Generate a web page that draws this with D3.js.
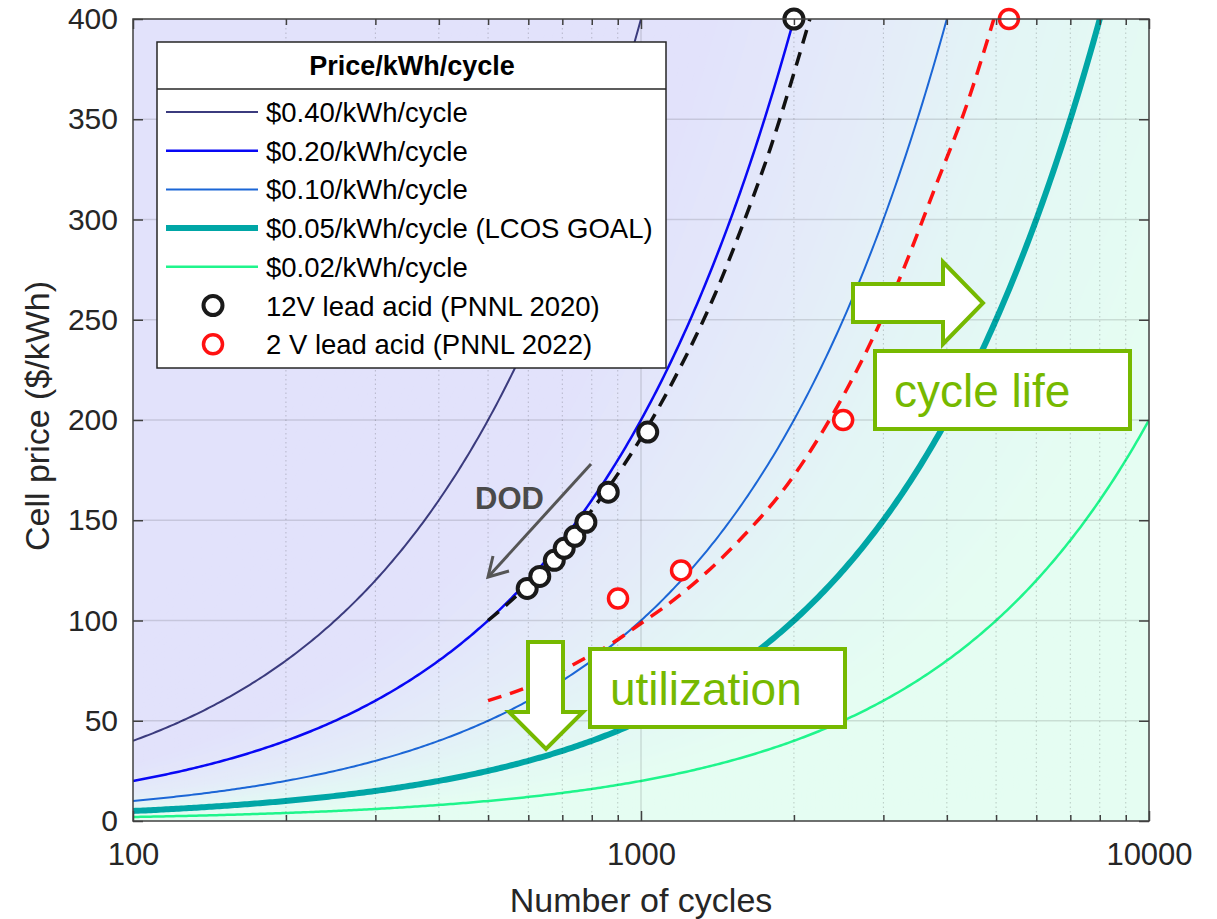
<!DOCTYPE html>
<html>
<head>
<meta charset="utf-8">
<script src="https://cdn.jsdelivr.net/npm/d3@7"></script>
<style>
  body { margin: 0; background: #fff; }
  text { font-family: "Liberation Sans", Arial, sans-serif; }
</style>
</head>
<body>
<svg id="chart"></svg>
<script>
const width = 1217;
const height = 919;

// ---- data ----
// iso-cost lines: cell price = rate * cycles
const rates = [0.40, 0.20, 0.10, 0.05, 0.02];
const rateLabels = ['$0.40/kWh/cycle', '$0.20/kWh/cycle', '$0.10/kWh/cycle',
  '$0.05/kWh/cycle (LCOS GOAL)', '$0.02/kWh/cycle'];

// 12V lead acid (PNNL 2020)
const lead12Cycles = [597, 632, 675, 706, 741, 779, 862, 1031, 2000];
const lead12Price = [116, 122, 130, 136, 142, 149, 164, 194, 400];
// 2 V lead acid (PNNL 2022)
const lead2Cycles = [901, 1199, 2500, 5300];
const lead2Price = [111, 125, 200, 400];

// dashed trend lines
const fit12Cycles = [500, 600, 700, 800, 900, 1000, 1160, 1400, 1600, 1800, 2000, 2150];
const fit12Price = [100, 118, 137, 155, 173, 191, 220, 263, 300, 336, 373, 400];
const fit2Cycles = [500, 614, 787, 869, 980, 1211, 1589, 1905, 2249, 2700, 3186, 3820, 4375, 4950];
const fit2Price = [60, 68, 82, 88, 97, 114, 142, 165, 192, 228, 267, 318, 357, 400];

const yTicks = [0, 50, 100, 150, 200, 250, 300, 350, 400];
const xMajorTicks = [100, 1000, 10000];
const xMinorTicks = [200, 300, 400, 500, 600, 700, 800, 900, 2000, 3000, 4000, 5000, 6000, 7000, 8000, 9000];

// ---- styles ----
const rateColors = ['#3b3b7e', '#0808f5', '#1b66d6', '#00a6a6', '#1ff58c'];
const rateWidths = [2, 2.5, 2, 6, 2.5];
const green = '#76b900';

const svg = d3.select('#chart')
  .attr('width', width)
  .attr('height', height);

const plot = { left: 133, right: 1149, top: 19, bottom: 821 };

const x = d3.scaleLog().domain([100, 10000]).range([plot.left, plot.right]);
const y = d3.scaleLinear().domain([0, 400]).range([plot.bottom, plot.top]);

svg.append('clipPath').attr('id', 'clip')
  .append('rect')
  .attr('x', plot.left).attr('y', plot.top)
  .attr('width', plot.right - plot.left).attr('height', plot.bottom - plot.top);

const inner = svg.append('g').attr('clip-path', 'url(#clip)');

// sample points along the cycle axis for drawing the curves
const cycleSamples = d3.range(0, 401).map(i => 100 * Math.pow(10, i / 200));

// background shading: colour by price per cycle (lavender high, mint low)
const bgColor = d3.scaleLog()
  .domain([0.3, 0.14, 0.07, 0.025])
  .range(['#e2e2fb', '#e4ebf9', '#e3f6f5', '#e5fdf2'])
  .clamp(true);

inner.append('rect')
  .attr('x', plot.left).attr('y', plot.top)
  .attr('width', plot.right - plot.left).attr('height', plot.bottom - plot.top)
  .attr('fill', bgColor(1));

const bandRates = d3.range(0, 160).map(i => Math.pow(10, -i / 60));
const bandArea = r => d3.area()
  .x(n => x(n))
  .y0(y(0))
  .y1(n => y(Math.min(r * n, 420)));

inner.selectAll('.band')
  .data(bandRates)
  .enter()
  .append('path')
  .attr('class', 'band')
  .attr('d', r => bandArea(r)(cycleSamples))
  .attr('fill', r => bgColor(r));

// grid
const grid = svg.append('g');
grid.selectAll('.ygrid')
  .data(yTicks.slice(1, -1))
  .enter().append('line')
  .attr('x1', plot.left).attr('x2', plot.right)
  .attr('y1', d => y(d)).attr('y2', d => y(d))
  .attr('stroke', '#000').attr('stroke-opacity', 0.12).attr('stroke-width', 1.5);
grid.selectAll('.xminor')
  .data(xMinorTicks)
  .enter().append('line')
  .attr('x1', d => x(d)).attr('x2', d => x(d))
  .attr('y1', plot.top).attr('y2', plot.bottom)
  .attr('stroke', '#000').attr('stroke-opacity', 0.2).attr('stroke-width', 1)
  .attr('stroke-dasharray', '1.5,3');
grid.append('line')
  .attr('x1', x(1000)).attr('x2', x(1000))
  .attr('y1', plot.top).attr('y2', plot.bottom)
  .attr('stroke', '#000').attr('stroke-opacity', 0.12).attr('stroke-width', 1.5);

// iso-cost curves
const curveLine = r => d3.line()
  .x(n => x(n))
  .y(n => y(r * n));

inner.selectAll('.rate')
  .data(rates)
  .enter().append('path')
  .attr('class', 'rate')
  .attr('d', r => curveLine(r)(cycleSamples.filter(n => r * n <= 430)))
  .attr('fill', 'none')
  .attr('stroke', (r, i) => rateColors[i])
  .attr('stroke-width', (r, i) => rateWidths[i]);

// dashed trend lines
const fitLine = d3.line().x(d => x(d[0])).y(d => y(d[1])).curve(d3.curveMonotoneX);
inner.append('path')
  .attr('d', fitLine(d3.zip(fit12Cycles, fit12Price)))
  .attr('fill', 'none').attr('stroke', '#111').attr('stroke-width', 3.5)
  .attr('stroke-dasharray', '14,9');
inner.append('path')
  .attr('d', fitLine(d3.zip(fit2Cycles, fit2Price)))
  .attr('fill', 'none').attr('stroke', '#ff1111').attr('stroke-width', 3.5)
  .attr('stroke-dasharray', '14,9');

// markers
svg.selectAll('.m12')
  .data(d3.zip(lead12Cycles, lead12Price))
  .enter().append('circle')
  .attr('cx', d => x(d[0])).attr('cy', d => y(d[1])).attr('r', 9.5)
  .attr('fill', '#fff').attr('stroke', '#1a1a1a').attr('stroke-width', 4);
svg.selectAll('.m2')
  .data(d3.zip(lead2Cycles, lead2Price))
  .enter().append('circle')
  .attr('cx', d => x(d[0])).attr('cy', d => y(d[1])).attr('r', 9.5)
  .attr('fill', '#fff').attr('stroke', '#ff1111').attr('stroke-width', 3.5);

// axes: ticks point inwards
const axisStyle = size => g => {
  g.select('.domain').remove();
  g.selectAll('line').attr('stroke', '#404040').attr('stroke-width', 1.5);
  g.selectAll('text').style('font-size', size + 'px').style('fill', '#262626')
    .style('font-family', '"Liberation Sans", Arial, sans-serif');
};
svg.append('g').attr('transform', `translate(${plot.left},0)`)
  .call(d3.axisLeft(y).tickValues(yTicks).tickSize(-10).tickPadding(15))
  .call(axisStyle(30));
svg.append('g').attr('transform', `translate(${plot.right},0)`)
  .call(d3.axisRight(y).tickValues(yTicks).tickSize(-10).tickFormat(''))
  .call(axisStyle(30));
svg.append('g').attr('transform', `translate(0,${plot.bottom})`)
  .call(d3.axisBottom(x).tickValues(xMajorTicks).tickSize(-10).tickPadding(22).tickFormat(d3.format('d')))
  .call(axisStyle(31));
svg.append('g').attr('transform', `translate(0,${plot.bottom})`)
  .call(d3.axisBottom(x).tickValues(xMinorTicks).tickSize(-6).tickFormat(''))
  .call(axisStyle(30));
svg.append('g').attr('transform', `translate(0,${plot.top})`)
  .call(d3.axisTop(x).tickValues(xMajorTicks).tickSize(-10).tickFormat(''))
  .call(axisStyle(30));
svg.append('g').attr('transform', `translate(0,${plot.top})`)
  .call(d3.axisTop(x).tickValues(xMinorTicks).tickSize(-6).tickFormat(''))
  .call(axisStyle(30));

svg.append('rect')
  .attr('x', plot.left).attr('y', plot.top)
  .attr('width', plot.right - plot.left).attr('height', plot.bottom - plot.top)
  .attr('fill', 'none').attr('stroke', '#404040').attr('stroke-width', 1.5);

// axis titles
svg.append('text')
  .attr('x', (plot.left + plot.right) / 2).attr('y', 912)
  .attr('text-anchor', 'middle').style('font-size', '34px').style('fill', '#262626')
  .text('Number of cycles');
svg.append('text')
  .attr('transform', 'translate(49,416) rotate(-90)')
  .attr('text-anchor', 'middle').style('font-size', '34px').style('fill', '#262626')
  .text('Cell price ($/kWh)');

// ---- annotations ----
// DOD arrow
svg.append('line')
  .attr('x1', 591).attr('y1', 464).attr('x2', 489).attr('y2', 576)
  .attr('stroke', '#555').attr('stroke-width', 3);
svg.append('polyline')
  .attr('points', '493,556 488,577 509,571')
  .attr('fill', 'none').attr('stroke', '#555').attr('stroke-width', 3);
svg.append('text')
  .attr('x', 475).attr('y', 509)
  .style('font-size', '31px').style('font-weight', 'bold').style('fill', '#4a4a4a')
  .text('DOD');

// utilization down arrow + box
svg.append('path')
  .attr('d', 'M528,642 L563,642 L563,712 L583,712 L546,749 L509,712 L528,712 Z')
  .attr('fill', '#fff').attr('stroke', green).attr('stroke-width', 4);
svg.append('rect')
  .attr('x', 590).attr('y', 649).attr('width', 255).attr('height', 78)
  .attr('fill', '#fff').attr('stroke', green).attr('stroke-width', 4);
svg.append('text')
  .attr('x', 610).attr('y', 705)
  .style('font-size', '46px').style('fill', green)
  .text('utilization');

// cycle life right arrow + box
svg.append('path')
  .attr('d', 'M853,284 L943,284 L943,262 L983,303 L943,344 L943,322 L853,322 Z')
  .attr('fill', '#fff').attr('stroke', green).attr('stroke-width', 4);
svg.append('rect')
  .attr('x', 875).attr('y', 351).attr('width', 255).attr('height', 78)
  .attr('fill', '#fff').attr('stroke', green).attr('stroke-width', 4);
svg.append('text')
  .attr('x', 894).attr('y', 407)
  .style('font-size', '46px').style('fill', green)
  .text('cycle life');

// ---- legend ----
const legend = svg.append('g');
legend.append('rect')
  .attr('x', 157).attr('y', 42).attr('width', 509).attr('height', 326)
  .attr('fill', '#fff').attr('stroke', '#262626').attr('stroke-width', 1.5);
legend.append('line')
  .attr('x1', 157).attr('x2', 666).attr('y1', 89).attr('y2', 89)
  .attr('stroke', '#262626').attr('stroke-width', 1.5);
legend.append('text')
  .attr('x', 412).attr('y', 75)
  .attr('text-anchor', 'middle')
  .style('font-size', '27px').style('font-weight', 'bold').style('fill', '#000')
  .text('Price/kWh/cycle');

const rowY = i => 112 + i * 38.7;
legend.selectAll('.lline')
  .data(rates)
  .enter().append('line')
  .attr('x1', 166).attr('x2', 258)
  .attr('y1', (d, i) => rowY(i)).attr('y2', (d, i) => rowY(i))
  .attr('stroke', (d, i) => rateColors[i])
  .attr('stroke-width', (d, i) => rateWidths[i]);

const legendLabels = rateLabels.concat(['12V lead acid (PNNL 2020)', '2 V lead acid (PNNL 2022)']);
legend.selectAll('.ltext')
  .data(legendLabels)
  .enter().append('text')
  .attr('x', 266).attr('y', (d, i) => rowY(i) + 10)
  .style('font-size', '27.5px').style('fill', '#000')
  .text(d => d);

legend.append('circle')
  .attr('cx', 213).attr('cy', rowY(5)).attr('r', 9.5)
  .attr('fill', '#fff').attr('stroke', '#1a1a1a').attr('stroke-width', 4);
legend.append('circle')
  .attr('cx', 213).attr('cy', rowY(6)).attr('r', 9.5)
  .attr('fill', '#fff').attr('stroke', '#ff1111').attr('stroke-width', 3.5);
</script>
</body>
</html>
